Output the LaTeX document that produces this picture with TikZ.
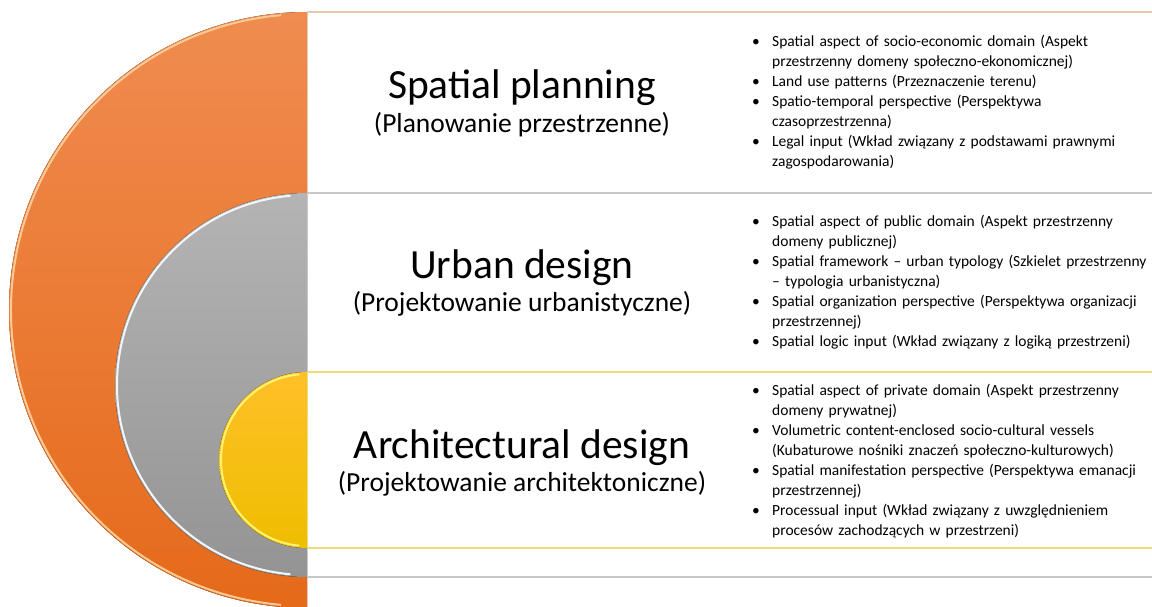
\documentclass[tikz,border=0pt]{standalone}
\usepackage{fontspec}
\setmainfont{Carlito}
\usetikzlibrary{positioning}

% tier colours: top/bottom of the shading, bevel rim, frame line
\definecolor{plantop}{RGB}{240,140,80}
\definecolor{planbot}{RGB}{229,106,26}
\definecolor{planrim}{RGB}{250,202,150}
\definecolor{planline}{RGB}{234,200,172}
\definecolor{urbtop}{RGB}{180,180,180}
\definecolor{urbbot}{RGB}{148,148,148}
\definecolor{urbrim}{RGB}{242,246,250}
\definecolor{urbline}{RGB}{200,200,200}
\definecolor{archtop}{RGB}{255,192,40}
\definecolor{archbot}{RGB}{238,190,0}
\definecolor{archrim}{RGB}{255,242,110}
\definecolor{archline}{RGB}{236,220,120}

% one bullet point with a hanging second line
\newcommand{\bitem}[1]{\noindent\hangindent=20pt\hangafter=1%
  \makebox[20pt][l]{\textbullet}#1\par}

\begin{document}
\begin{tikzpicture}[
x=1pt,y=-1pt,
heading/.style={anchor=base,inner sep=0pt,font=\fontsize{41.5}{46}\selectfont},
subheading/.style={anchor=base,inner sep=0pt,font=\fontsize{27.5}{32}\selectfont},
notes/.style={anchor=west,inner sep=0pt,text width=400pt,align=left,
  font=\fontsize{15.5}{20}\selectfont}
]
\clip (0,0) rectangle (1152,606);

% nested half discs, each with its white frame to the right
\foreach \cy/\r/\ctop/\cbot/\crim/\cline in {
    310/298/plantop/planbot/planrim/planline,
    385/192/urbtop/urbbot/urbrim/urbline,
    460/88/archtop/archbot/archrim/archline}{
  \fill[top color=\ctop,bottom color=\cbot]
    (307,\cy) ++(90:\r) arc[start angle=90,end angle=270,radius=\r] -- cycle;
  \draw[\crim,line width=2pt]
    (307,\cy) ++(95:{\r-2}) arc[start angle=95,end angle=265,radius={\r-2}];
  \draw[\cline,line width=1.2pt,fill=white] (307.5,{\cy-\r}) rectangle (1170,{\cy+\r});
}

% headings
\node[heading] (plan) at (522,98) {Spatial planning};
\node[subheading] (plansub) at ([yshift=-34pt]plan.base) {(Planowanie przestrzenne)};
\node[heading] (urban) at (522,278) {Urban design};
\node[subheading] (urbansub) at ([yshift=-33pt]urban.base) {(Projektowanie urbanistyczne)};
\node[heading] (arch) at (522,458) {Architectural design};
\node[subheading] (archsub) at ([yshift=-33pt]arch.base) {(Projektowanie architektoniczne)};

% bullet lists
\node[notes] (plannotes) at (752,102) {%
  \bitem{Spatial aspect of socio-economic domain (Aspekt\newline przestrzenny domeny społeczno-ekonomicznej)}
  \bitem{Land use patterns (Przeznaczenie terenu)}
  \bitem{Spatio-temporal perspective (Perspektywa\newline czasoprzestrzenna)}
  \bitem{Legal input (Wkład związany z podstawami prawnymi\newline zagospodarowania)}};
\node[notes] (urbannotes) at (752,282) {%
  \bitem{Spatial aspect of public domain (Aspekt przestrzenny\newline domeny publicznej)}
  \bitem{Spatial framework – urban typology (Szkielet przestrzenny\newline – typologia urbanistyczna)}
  \bitem{Spatial organization perspective (Perspektywa organizacji\newline przestrzennej)}
  \bitem{Spatial logic input (Wkład związany z logiką przestrzeni)}};
\node[notes] (archnotes) at (752,461) {%
  \bitem{Spatial aspect of private domain (Aspekt przestrzenny\newline domeny prywatnej)}
  \bitem{Volumetric content-enclosed socio-cultural vessels\newline (Kubaturowe nośniki znaczeń społeczno-kulturowych)}
  \bitem{Spatial manifestation perspective (Perspektywa emanacji\newline przestrzennej)}
  \bitem{Processual input (Wkład związany z uwzględnieniem\newline procesów zachodzących w przestrzeni)}};
\end{tikzpicture}
\end{document}
